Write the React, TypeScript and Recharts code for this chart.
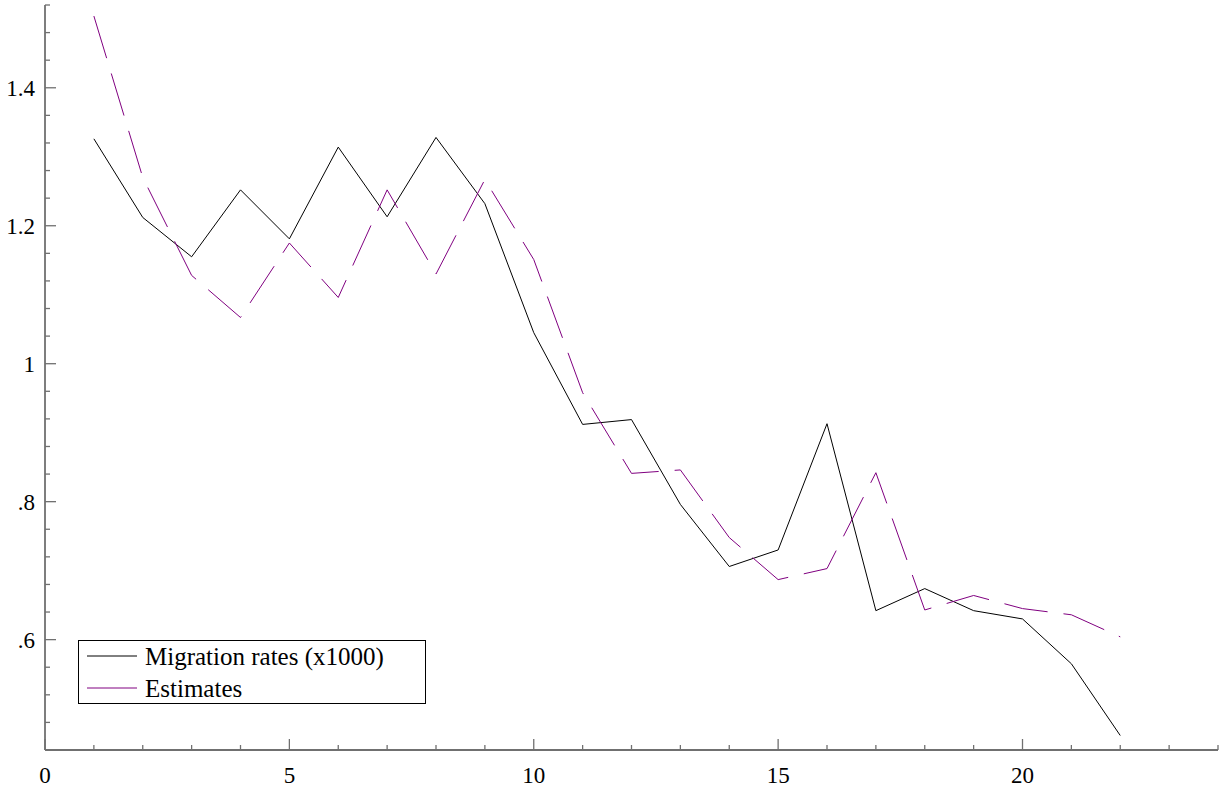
import React from 'react';
import { LineChart, Line, XAxis, YAxis, Legend } from 'recharts';

const periods = [1, 2, 3, 4, 5, 6, 7, 8, 9, 10, 11, 12, 13, 14, 15, 16, 17, 18, 19, 20, 21, 22];
const migrationRates = [1.326, 1.212, 1.155, 1.252, 1.181, 1.314, 1.213, 1.328, 1.232, 1.045, 0.912, 0.919,
    0.796, 0.706, 0.730, 0.913, 0.642, 0.674, 0.642, 0.630, 0.565, 0.461];
const estimates = [1.504, 1.270, 1.128, 1.067, 1.175, 1.096, 1.252, 1.130, 1.267, 1.151, 0.958, 0.841,
    0.846, 0.748, 0.687, 0.703, 0.842, 0.643, 0.664, 0.645, 0.636, 0.604];

const xTicks = [0, 1, 2, 3, 4, 5, 6, 7, 8, 9, 10, 11, 12, 13, 14, 15, 16, 17, 18, 19, 20, 21, 22, 23, 24];
const xMajor = [0, 5, 10, 15, 20];
const yTicks = [0.48, 0.52, 0.56, 0.6, 0.64, 0.68, 0.72, 0.76, 0.8, 0.84, 0.88, 0.92, 0.96, 1, 1.04, 1.08,
    1.12, 1.16, 1.2, 1.24, 1.28, 1.32, 1.36, 1.4, 1.44, 1.48, 1.52];
const yLabels: Record<string, string> = { '0.60': '.6', '0.80': '.8', '1.00': '1', '1.20': '1.2', '1.40': '1.4' };

const seriesNames = ['Migration rates (x1000)', 'Estimates'];

const data = periods.map((p, i) => ({ period: p, migration: migrationRates[i], estimates: estimates[i] }));

const FONT = "'Liberation Serif', 'Times New Roman', Times, serif";
const AXIS = '#707070';
const txt = { fontFamily: FONT };

const XTick = (props: any) => {
    const { x, y, payload } = props;
    const major = xMajor.includes(payload.value);
    return (
        <g>
            <line x1={x} x2={x} y1={y} y2={y - (major ? 11 : 5)} stroke={AXIS} strokeWidth={1.3} />
            {major && (
                <text x={x} y={y + 33} textAnchor="middle" fontSize={23} style={txt} fill="#000">
                    {payload.value}
                </text>
            )}
        </g>
    );
};

const YTick = (props: any) => {
    const { x, y, payload } = props;
    const label = yLabels[Number(payload.value).toFixed(2)];
    return (
        <g>
            <line x1={x} x2={x + (label ? 11 : 5)} y1={y} y2={y} stroke={AXIS} strokeWidth={1.3} />
            {label && (
                <text x={x - 10} y={y + 8} textAnchor="end" fontSize={23} style={txt} fill="#000">
                    {label}
                </text>
            )}
        </g>
    );
};

const LegendBox = () => (
    <svg width={349} height={65} style={{ display: 'block' }}>
        <rect x={0.5} y={0.5} width={347} height={63} fill="#fff" stroke="#000" strokeWidth={1} />
        <line x1={9} x2={59} y1={16} y2={16} stroke="#000" strokeWidth={1} />
        <text x={67} y={25} fontSize={25} style={txt} fill="#000">{seriesNames[0]}</text>
        <line x1={9} x2={59} y1={48} y2={48} stroke="#800080" strokeWidth={1} />
        <text x={67} y={57} fontSize={25} style={txt} fill="#000">{seriesNames[1]}</text>
    </svg>
);

export default function App() {
    return (
        <div style={{ position: 'absolute', left: 0, top: 0, background: '#fff', fontFamily: FONT }}>
            <LineChart width={1222} height={787} data={data} margin={{ top: 5, right: 4, bottom: 0, left: 0 }}>
                <XAxis
                    dataKey="period"
                    type="number"
                    domain={[0, 24]}
                    ticks={xTicks}
                    interval={0}
                    tick={<XTick />}
                    tickLine={false}
                    tickSize={0}
                    tickMargin={0}
                    height={37}
                    axisLine={{ stroke: AXIS, strokeWidth: 1.8 }}
                    allowDataOverflow
                />
                <YAxis
                    type="number"
                    domain={[0.44, 1.52]}
                    ticks={yTicks}
                    interval={0}
                    tick={<YTick />}
                    tickLine={false}
                    tickSize={0}
                    tickMargin={0}
                    width={45}
                    axisLine={{ stroke: AXIS, strokeWidth: 1.8 }}
                    allowDataOverflow
                />
                <Legend
                    layout="horizontal"
                    verticalAlign="middle"
                    align="center"
                    wrapperStyle={{ left: 78, top: 640, width: 349, height: 65 }}
                    content={<LegendBox />}
                />
                <Line
                    type="linear"
                    dataKey="migration"
                    name={seriesNames[0]}
                    stroke="#000"
                    strokeWidth={1}
                    dot={false}
                    isAnimationActive={false}
                />
                <Line
                    type="linear"
                    dataKey="estimates"
                    name={seriesNames[1]}
                    stroke="#800080"
                    strokeWidth={1}
                    strokeDasharray="44 16"
                    dot={false}
                    isAnimationActive={false}
                />
            </LineChart>
        </div>
    );
}
